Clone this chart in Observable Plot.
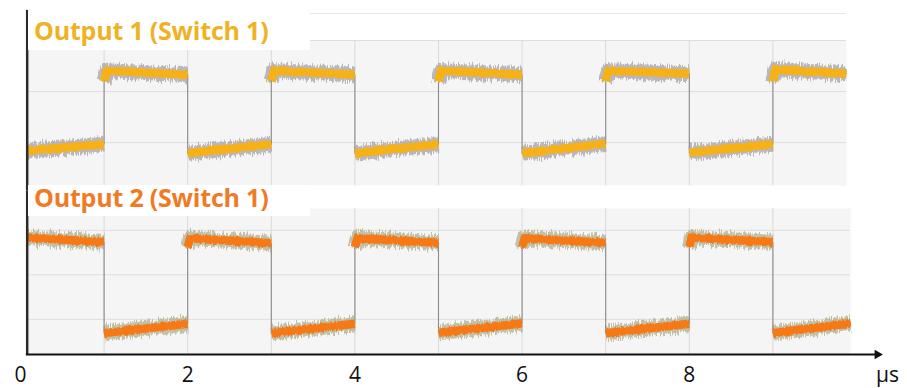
<!DOCTYPE html>
<html><head><meta charset="utf-8">
<script src="https://cdn.jsdelivr.net/npm/d3@7"></script>
<script src="https://cdn.jsdelivr.net/npm/@observablehq/plot@0.6"></script>
<style>
body{margin:0;background:#fff;}
#wrap{position:relative;width:907px;height:388px;overflow:hidden;font-family:"Open Sans",sans-serif;}
#wrap svg{display:block;}
.title{position:absolute;left:28px;width:282px;background:#fff;font-weight:700;font-size:25px;padding-left:6px;box-sizing:border-box;white-space:nowrap;letter-spacing:-0.2px;}
</style></head><body><div id="wrap"></div>
<script>
// ---- time axis (µs) ----
const timeTicks = [0, 2, 4, 6, 8];
const gridTimes = [1, 2, 3, 4, 5, 6, 7, 8, 9];
const unitLabel = "µs";
const traceStart = 0.08;
const arrowHeadTime = 10.25;
const unitLabelTime = 10.37;

// ---- Output 1 (Switch 1): segments, levels in screen divisions ----
const out1Title = "Output 1 (Switch 1)";
const out1Start = [0.08, 1, 2, 3, 4, 5, 6, 7, 8, 9];
const out1End   = [1, 2, 3, 4, 5, 6, 7, 8, 9, 9.88];
const out1State = ["low","high","low","high","low","high","low","high","low","high"];
const out1V0    = [-0.16, 1.41, -0.21, 1.41, -0.21, 1.41, -0.21, 1.41, -0.20, 1.43];
const out1V1    = [-0.03, 1.33, -0.03, 1.33, -0.03, 1.33, -0.02, 1.35, -0.03, 1.35];
const out1Knee  = 1.2;
const out1Grid  = [0, 1, 2];
const out1Domain = [-0.84, 2];
const out1Header = 2.53;
const out1AxisTop = 2.59, out1AxisBottom = -0.94;

// ---- Output 2 (Switch 1) ----
const out2Title = "Output 2 (Switch 1)";
const out2Start = [0.08, 1, 2, 3, 4, 5, 6, 7, 8, 9];
const out2End   = [1, 2, 3, 4, 5, 6, 7, 8, 9, 9.93];
const out2State = ["high","low","high","low","high","low","high","low","high","low"];
const out2V0    = [1.84, -0.31, 1.82, -0.31, 1.82, -0.30, 1.82, -0.31, 1.84, -0.31];
const out2V1    = [1.73, -0.10, 1.71, -0.10, 1.72, -0.09, 1.72, -0.10, 1.73, -0.09];
const out2Knee  = 1.62;
const out2Grid  = [0, 1, 2];
const out2Domain = [-0.79, 2.49];
const out2AxisTop = 2.89;

const settle = 0.03;

function buildTrace(starts, ends, states, v0s, v1s, knee) {
  const pts = [];
  starts.forEach((s, i) => {
    if (i > 0 && states[i] === "high") {
      pts.push({t: s, v: knee, seg: i});
      pts.push({t: s + settle, v: v0s[i], seg: i});
    } else {
      pts.push({t: s, v: v0s[i], seg: i});
    }
    pts.push({t: ends[i], v: v1s[i], seg: i});
  });
  return pts;
}

const trace1 = buildTrace(out1Start, out1End, out1State, out1V0, out1V1, out1Knee);
const trace2 = buildTrace(out2Start, out2End, out2State, out2V0, out2V1, out2Knee);

const xScale = {domain: [0, 10], range: [20, 856]};

function addNoise(svg, h, suffix) {
  const defs = d3.select(svg).insert("defs", ":first-child");
  [["noiseWide" + suffix, 7, 4, "0.9 0.08"], ["noiseNarrow" + suffix, 2.5, 9, "0.5 0.1"]].forEach(([id, sc, seed, freq]) => {
    const f = defs.append("filter").attr("id", id).attr("filterUnits", "userSpaceOnUse")
      .attr("x", 0).attr("y", 0).attr("width", 907).attr("height", h);
    f.append("feTurbulence").attr("type", "fractalNoise").attr("baseFrequency", freq)
      .attr("numOctaves", 2).attr("seed", seed).attr("result", "n");
    f.append("feColorMatrix").attr("in", "n").attr("type", "matrix")
      .attr("values", "0 0 0 0 0.5  0 1.6 0 0 -0.3  0 0 0 0 0  0 0 0 0 1").attr("result", "m");
    f.append("feDisplacementMap").attr("in", "SourceGraphic").attr("in2", "m")
      .attr("scale", sc).attr("xChannelSelector", "R").attr("yChannelSelector", "G");
  });
}

function panel({trace, grid, domain, height, marginTop, marginBottom, marginRight, halo, band, axisTop, axisBottom, bottomAxis, header}) {
  const marks = [
    Plot.frame({fill: "#f5f5f5", stroke: "none"}),
    Plot.ruleX(gridTimes, {stroke: "#d9d9d9", strokeWidth: 1}),
    Plot.ruleY(grid, {stroke: "#dedede", strokeWidth: 1})
  ];
  if (header != null) marks.push(Plot.ruleY([header], {stroke: "#e6e6e6", strokeWidth: 1}));
  marks.push(
    Plot.line(trace, {x: "t", y: "v", z: "seg", stroke: halo, strokeWidth: 15, strokeOpacity: 0.65, strokeLinecap: "butt"}),
    Plot.line(trace, {x: "t", y: "v", stroke: "#8c8c8c", strokeWidth: 1.1}),
    Plot.line(trace, {x: "t", y: "v", z: "seg", stroke: band, strokeWidth: 8.5, strokeLinecap: "butt"}),
    Plot.ruleX([traceStart], {y1: axisTop, y2: axisBottom, stroke: "#2b2b2b", strokeWidth: 2.5})
  );
  if (bottomAxis) {
    marks.push(
      Plot.ruleY([domain[0]], {x1: traceStart - 0.01, x2: arrowHeadTime, stroke: "#111", strokeWidth: 2}),
      Plot.dot([{t: arrowHeadTime, v: domain[0]}], {x: "t", y: "v", symbol: "triangle2", rotate: 90, r: 4.6, fill: "#111", stroke: "none"}),
      Plot.axisX(timeTicks, {tickSize: 0, tickPadding: 13, fontSize: 21, label: null, fill: "#111"}),
      Plot.text([unitLabel], {x: () => unitLabelTime, y: () => domain[0], text: d => d, dy: 21, fontSize: 21, fill: "#111"})
    );
  }
  return Plot.plot({
    width: 907, height, marginTop, marginBottom, marginLeft: 27, marginRight,
    x: {...xScale, axis: null},
    y: {domain, axis: null},
    style: {fontFamily: "'Open Sans', sans-serif", background: "transparent", overflow: "visible"},
    marks
  });
}

const wrap = document.getElementById("wrap");

const topPanel = panel({trace: trace1, grid: out1Grid, domain: out1Domain, height: 190, marginTop: 40, marginBottom: 5, marginRight: 61,
  halo: "#9897a3", band: "#f6b118", axisTop: out1AxisTop, axisBottom: out1AxisBottom, bottomAxis: false, header: out1Header});
wrap.appendChild(topPanel);

const botPanel = panel({trace: trace2, grid: out2Grid, domain: out2Domain, height: 198, marginTop: 18, marginBottom: 34, marginRight: 57,
  halo: "#a3a47f", band: "#f67919", axisTop: out2AxisTop, axisBottom: out2Domain[0], bottomAxis: true, header: null});
wrap.appendChild(botPanel);

[[topPanel, 190, "A"], [botPanel, 198, "B"]].forEach(([svg, h, suf]) => {
  addNoise(svg, h, suf);
  d3.select(svg).selectAll("g[aria-label='line']").each(function() {
    const s = this.getAttribute("stroke");
    if (s === "#9897a3" || s === "#a3a47f") this.setAttribute("filter", `url(#noiseWide${suf})`);
    else if (s === "#f6b118" || s === "#f67919") this.setAttribute("filter", `url(#noiseNarrow${suf})`);
  });
});

function addTitle(text, topPx, heightPx, lineH, color) {
  const d = document.createElement("div");
  d.className = "title";
  d.textContent = text;
  d.style.top = topPx + "px";
  d.style.height = heightPx + "px";
  d.style.lineHeight = lineH + "px";
  d.style.color = color;
  wrap.appendChild(d);
}
addTitle(out1Title, 10, 40, 40, "#efb224");
addTitle(out2Title, 185, 31, 24, "#f07a26");
</script></body></html>
